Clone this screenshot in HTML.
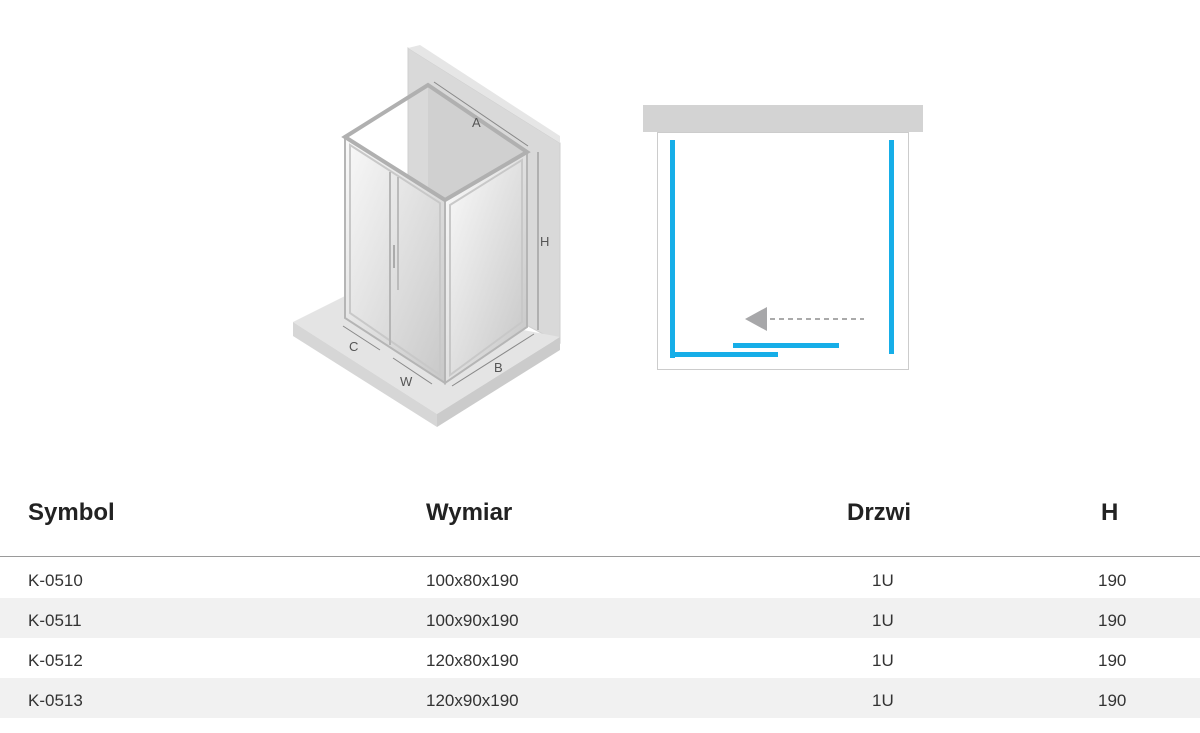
<!DOCTYPE html>
<html><head><meta charset="utf-8"><style>
body{margin:0;width:1200px;height:733px;background:#fff;position:relative;overflow:hidden;font-family:"Liberation Sans",sans-serif;color:#222}
.h{position:absolute;top:499px;font-size:24px;font-weight:bold;color:#222}
.row{position:absolute;left:0;width:1200px;height:40px}
.c{position:absolute;font-size:17px;color:#333;line-height:40px;top:3px}
</style></head><body>
<svg width="1200" height="460" style="position:absolute;left:0;top:0">
<defs>
<linearGradient id="g1" x1="0" y1="0" x2="1" y2="1"><stop offset="0" stop-color="#f9f9f9"/><stop offset="1" stop-color="#c8c8c8"/></linearGradient>
<linearGradient id="g2" x1="0" y1="0" x2="1" y2="1"><stop offset="0" stop-color="#fcfcfc"/><stop offset="1" stop-color="#c4c4c4"/></linearGradient>
</defs>
<polygon points="408,48 560,143 560,343 408,262" fill="#d9d9d9" stroke="#cfcfcf"/>
<polygon points="408,48 420,45 560,136 560,143" fill="#e6e6e6"/>
<polygon points="293,322 345,296 560,337 437,414" fill="#e4e4e4"/>
<polygon points="293,322 437,414 437,427 293,336" fill="#d6d6d6"/>
<polygon points="437,414 560,337 560,350 437,427" fill="#cbcbcb"/>
<polygon points="428,85 527,152 527,327 428,265" fill="#d0d0d0"/>
<polygon points="345,318 428,265 527,327 445,383" fill="#ececec"/>
<polygon points="345,137 445,200 445,383 345,318" fill="url(#g1)" stroke="#b5b5b5" stroke-width="2"/>
<polygon points="350,145 440,203 440,375 350,313" fill="none" stroke="#c8c8c8" stroke-width="2"/>
<line x1="390" y1="172" x2="390" y2="345" stroke="#b5b5b5" stroke-width="2"/>
<line x1="398" y1="177" x2="398" y2="290" stroke="#bbb" stroke-width="2"/>
<line x1="394" y1="245" x2="394" y2="268" stroke="#999" stroke-width="1.5"/>
<polygon points="445,200 527,152 527,327 445,383" fill="url(#g2)" stroke="#b5b5b5" stroke-width="2"/>
<polygon points="450,205 522,160 522,322 450,375" fill="none" stroke="#c8c8c8" stroke-width="2"/>
<polygon points="345,137 428,85 527,152 445,200" fill="none" stroke="#b0b0b0" stroke-width="4"/>
<g stroke="#888" stroke-width="1" fill="#666">
<line x1="434" y1="82" x2="528" y2="146"/>
<line x1="538" y1="152" x2="538" y2="330"/>
<line x1="343" y1="326" x2="380" y2="350"/>
<line x1="393" y1="358" x2="432" y2="384"/>
<line x1="452" y1="386" x2="534" y2="334"/>
</g>
<g font-size="13" fill="#555" font-family="Liberation Sans,sans-serif">
<text x="472" y="127">A</text><text x="540" y="246">H</text>
<text x="349" y="351">C</text><text x="400" y="386">W</text><text x="494" y="372">B</text>
</g>
<rect x="657.5" y="132.5" width="251" height="237" fill="#fff" stroke="#ccc"/>
<rect x="643" y="105" width="280" height="27" fill="#d3d3d3"/>
<g fill="#16aee8">
<rect x="670" y="140" width="5" height="218"/>
<rect x="670" y="352" width="108" height="5"/>
<rect x="733" y="343" width="106" height="5"/>
<rect x="889" y="140" width="5" height="214"/>
</g>
<polygon points="745,319 767,307 767,331" fill="#a7a7a9"/>
<line x1="770" y1="319" x2="864" y2="319" stroke="#aaa" stroke-width="2" stroke-dasharray="5,4"/>
</svg>
<div class="h" style="left:28px">Symbol</div>
<div class="h" style="left:426px">Wymiar</div>
<div class="h" style="left:847px">Drzwi</div>
<div class="h" style="left:1101px">H</div>
<div style="position:absolute;left:0;top:556px;width:1200px;height:1px;background:#9a9a9a"></div>
<div class="row" style="top:558px"><span class="c" style="left:28px">K-0510</span><span class="c" style="left:426px">100x80x190</span><span class="c" style="left:872px">1U</span><span class="c" style="left:1098px">190</span></div>
<div class="row" style="top:598px;background:#f1f1f1"><span class="c" style="left:28px">K-0511</span><span class="c" style="left:426px">100x90x190</span><span class="c" style="left:872px">1U</span><span class="c" style="left:1098px">190</span></div>
<div class="row" style="top:638px"><span class="c" style="left:28px">K-0512</span><span class="c" style="left:426px">120x80x190</span><span class="c" style="left:872px">1U</span><span class="c" style="left:1098px">190</span></div>
<div class="row" style="top:678px;background:#f1f1f1"><span class="c" style="left:28px">K-0513</span><span class="c" style="left:426px">120x90x190</span><span class="c" style="left:872px">1U</span><span class="c" style="left:1098px">190</span></div>
</body></html>
